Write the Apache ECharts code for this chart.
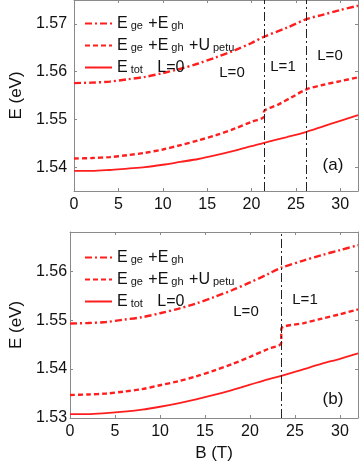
<!DOCTYPE html>
<html>
<head>
<meta charset="utf-8">
<script src="https://cdn.jsdelivr.net/npm/echarts@6/dist/echarts.min.js"></script>
<style>
  html, body { margin: 0; padding: 0; background: #fff; }
  #chartBox { width: 360px; height: 463px; }
</style>
</head>
<body>
<div id="chartBox"></div>
<script>
// panel (a)
var bA = [0, 2, 4, 6, 8, 10, 12, 14, 16, 18, 20, 21.4, 24, 26.2, 28, 30, 32]
var egA = [1.5576, 1.5577, 1.5579, 1.5584, 1.5589, 1.5597, 1.5606, 1.5617, 1.5630, 1.5644, 1.5660, 1.5673, 1.5692, 1.5710, 1.5719, 1.5729, 1.5738]
var etotA = [1.5392, 1.5392, 1.5394, 1.5397, 1.5400, 1.5405, 1.5411, 1.5417, 1.5425, 1.5434, 1.5444, 1.5451, 1.5463, 1.5474, 1.5485, 1.5497, 1.5509]
var bUA = [0, 2, 4, 6, 8, 10, 12, 14, 16, 18, 20, 21.4, 21.4, 23, 24.5, 26.2, 28, 30, 32]
var egUA = [1.5418, 1.5419, 1.5421, 1.5425, 1.5430, 1.5437, 1.5446, 1.5456, 1.5467, 1.5480, 1.5495, 1.5506, 1.5516, 1.5531, 1.5546, 1.5563, 1.5572, 1.5580, 1.5588]
var transA = [21.4, 26.2]
var yTicksA = [1.54, 1.55, 1.56, 1.57]

// panel (b)
var bB = [0, 2, 4, 6, 8, 10, 12, 14, 16, 18, 20, 22, 23.47, 26, 28, 30, 32]
var egB = [1.5493, 1.5494, 1.5496, 1.5501, 1.5506, 1.5514, 1.5523, 1.5534, 1.5547, 1.5561, 1.5577, 1.5594, 1.5607, 1.5622, 1.5633, 1.5643, 1.5653]
var etotB = [1.5308, 1.5308, 1.5310, 1.5313, 1.5317, 1.5323, 1.5330, 1.5338, 1.5347, 1.5357, 1.5368, 1.5379, 1.5386, 1.5400, 1.5411, 1.5421, 1.5432]
var bUB = [0, 2, 4, 6, 8, 10, 12, 14, 16, 18, 20, 22, 23.47, 23.47, 26, 28, 30, 32]
var egUB = [1.5347, 1.5348, 1.5350, 1.5354, 1.5359, 1.5367, 1.5375, 1.5385, 1.5397, 1.5410, 1.5425, 1.5441, 1.5453, 1.5482, 1.5494, 1.5503, 1.5512, 1.5522]
var transB = [23.47]
var yTicksB = [1.53, 1.54, 1.55, 1.56]

var xTicks = [0, 5, 10, 15, 20, 25, 30]

var FONT = 'Liberation Sans'
var RED = '#ff1e1e'
var AXIS_COLOR = '#8a8a8a'

function zip(xs, ys) {
  return xs.map(function (x, i) { return [x, ys[i]] })
}

function xAxisFor(grid, pos, labels) {
  return {
    type: 'value', gridIndex: grid, position: pos, min: 0, max: 32,
    splitLine: { show: false },
    axisLine: { show: true, onZero: false, lineStyle: { color: AXIS_COLOR, width: 1 } },
    axisTick: { show: true, inside: true, length: 3, customValues: xTicks, lineStyle: { color: AXIS_COLOR } },
    axisLabel: {
      show: labels, customValues: xTicks, margin: 6,
      color: '#111', fontFamily: FONT, fontSize: 16
    }
  }
}

function yAxisFor(grid, pos, labels, min, max, ticks, margin) {
  return {
    type: 'value', gridIndex: grid, position: pos, min: min, max: max,
    splitLine: { show: false },
    axisLine: { show: true, onZero: false, lineStyle: { color: AXIS_COLOR, width: 1 } },
    axisTick: { show: true, inside: true, length: 3, customValues: ticks, lineStyle: { color: AXIS_COLOR } },
    axisLabel: {
      show: labels, customValues: ticks, margin: margin,
      color: '#111', fontFamily: FONT, fontSize: 16,
      formatter: function (v) { return v.toFixed(2) }
    },
    name: labels ? 'E (eV)' : '',
    nameLocation: 'middle',
    nameGap: 45,
    nameRotate: 90,
    nameTextStyle: { color: '#111', fontFamily: FONT, fontSize: 17 }
  }
}

var names = {
  Eg: '{e|E}{s|ge}{e| +E}{s|gh}',
  EgU: '{e|E}{s|ge}{e| +E}{s|gh}{e| +U}{s|petu}',
  Etot: '{e|E}{s|tot}{e|   L=0}'
}

function legendFor(top) {
  return {
    orient: 'vertical', left: 79, top: top,
    itemWidth: 27, itemHeight: 12, itemGap: 4,
    selectedMode: false,
    data: ['Eg', 'EgU', 'Etot'],
    itemStyle: { opacity: 0 },
    formatter: function (n) { return names[n] },
    textStyle: {
      rich: {
        e: { fontFamily: FONT, fontSize: 16, color: '#111', verticalAlign: 'top', lineHeight: 15 },
        s: { fontFamily: FONT, fontSize: 11, color: '#111', verticalAlign: 'bottom', lineHeight: 10, padding: [6, 1, 0, 3] }
      }
    }
  }
}

function curve(name, xi, yi, xs, ys, dash, width, trans) {
  var s = {
    name: name, type: 'line', xAxisIndex: xi, yAxisIndex: yi,
    data: zip(xs, ys), symbol: 'none', silent: true,
    smooth: 0.3,
    lineStyle: { color: RED, width: width, type: dash },
    itemStyle: { color: RED }
  }
  if (trans) {
    s.markLine = {
      silent: true, symbol: 'none', label: { show: false },
      lineStyle: { color: '#222', width: 1, type: [9, 3, 2, 3] },
      data: trans.map(function (t) { return { xAxis: t } })
    }
  }
  return s
}

function txt(x, y, s, size) {
  return {
    type: 'text', x: x, y: y,
    style: { text: s, fontFamily: FONT, fontSize: size || 15, fill: '#111', align: 'center', verticalAlign: 'middle' }
  }
}

var myChart = echarts.init(document.getElementById('chartBox'))
myChart.setOption({
  animation: false,
  grid: [
    { left: 62, right: 2, top: 0, height: 191 },
    { left: 59, right: 2, top: 232, height: 188 }
  ],
  xAxis: [
    xAxisFor(0, 'bottom', true),
    xAxisFor(0, 'top', false),
    Object.assign(xAxisFor(1, 'bottom', true), {
      name: 'B (T)', nameLocation: 'middle', nameGap: 27,
      nameTextStyle: { color: '#111', fontFamily: FONT, fontSize: 17 }
    }),
    xAxisFor(1, 'top', false)
  ],
  yAxis: [
    yAxisFor(0, 'left', true, 1.535, 1.575, yTicksA, 7),
    yAxisFor(0, 'right', false, 1.535, 1.575, yTicksA, 7),
    yAxisFor(1, 'left', true, 1.53, 1.568, yTicksB, 3),
    yAxisFor(1, 'right', false, 1.53, 1.568, yTicksB, 3)
  ],
  legend: [legendFor(9), legendFor(243)],
  graphic: [
    txt(232, 73, 'L=0'),
    txt(283, 67, 'L=1'),
    txt(330, 56, 'L=0'),
    txt(333, 165, '(a)', 17),
    txt(246, 312, 'L=0'),
    txt(305, 300, 'L=1'),
    txt(333, 399, '(b)', 17)
  ],
  series: [
    curve('Eg', 0, 0, bA, egA, [7, 3, 2, 3], 2.4, transA),
    curve('EgU', 0, 0, bUA, egUA, [5, 3], 2.4),
    curve('Etot', 0, 0, bA, etotA, 'solid', 1.8),
    curve('Eg', 2, 2, bB, egB, [7, 3, 2, 3], 2.4, transB),
    curve('EgU', 2, 2, bUB, egUB, [5, 3], 2.4),
    curve('Etot', 2, 2, bB, etotB, 'solid', 1.8)
  ]
})
</script>
</body>
</html>
